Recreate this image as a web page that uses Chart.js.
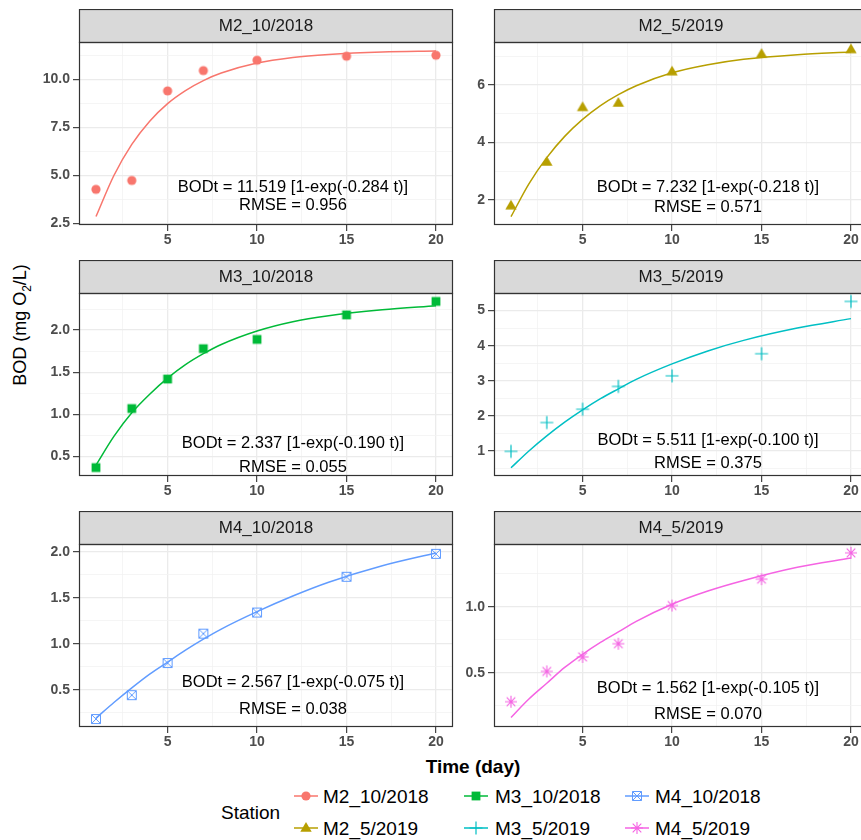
<!DOCTYPE html>
<html>
<head>
<meta charset="utf-8">
<title>BOD curves by station</title>
<script src="https://cdn.jsdelivr.net/npm/chart.js@4.4.1/dist/chart.umd.min.js"></script>
<style>
  html, body { margin: 0; padding: 0; background: #fff; }
  #wrap { position: relative; width: 861px; height: 840px; overflow: hidden;
          font-family: "Liberation Sans", Arial, sans-serif; }
  #wrap canvas { position: absolute; }
  .txt { position: absolute; white-space: nowrap; color: #000; line-height: 1; }
</style>
</head>
<body>
<div id="wrap">
  <div class="txt" style="left:473px; top:766px; font-size:19px; font-weight:bold; transform:translate(-50%,-50%);">Time (day)</div>
  <div class="txt" style="left:22px; top:325px; font-size:18px; transform:translate(-50%,-50%) rotate(-90deg);">BOD (mg O<sub style="font-size:12px">2</sub>/L)</div>
  <div class="txt" style="left:221px; top:812px; font-size:19px; transform:translateY(-50%);">Station</div>
</div>
<script>
const days = [1, 3, 5, 7, 10, 15, 20];
const fitDays = [1, 2, 3, 4, 5, 6, 7, 8, 10, 12, 14, 17, 20];

const stations = ['M2_10/2018', 'M2_5/2019', 'M3_10/2018', 'M3_5/2019', 'M4_10/2018', 'M4_5/2019'];
const colors = ['#F8766D', '#B79F00', '#00BA38', '#00BFC4', '#619CFF', '#F564E3'];
const shapes = ['circle', 'triangle', 'square', 'plus', 'boxcross', 'asterisk'];

// measured BOD (mg O2/L)
const bodM2Oct = [4.27, 4.73, 9.40, 10.46, 11.00, 11.21, 11.26];
const bodM2May = [1.80, 3.32, 5.22, 5.37, 6.46, 7.07, 7.23];
const bodM3Oct = [0.37, 1.07, 1.42, 1.78, 1.89, 2.18, 2.34];
const bodM3May = [0.99, 1.81, 2.19, 2.84, 3.14, 3.77, 5.26];
const bodM4Oct = [0.18, 0.44, 0.79, 1.11, 1.34, 1.73, 1.98];
const bodM4May = [0.28, 0.51, 0.62, 0.72, 1.01, 1.21, 1.41];

// fitted curves, read at fitDays
const fitM2Oct = [2.85, 4.99, 6.61, 7.82, 8.74, 9.42, 9.94, 10.33, 10.85, 11.14, 11.30, 11.43, 11.48];
const fitM2May = [1.42, 2.56, 3.47, 4.21, 4.80, 5.28, 5.66, 5.97, 6.42, 6.70, 6.89, 7.05, 7.14];
const fitM3Oct = [0.40, 0.74, 1.02, 1.24, 1.43, 1.59, 1.72, 1.83, 1.99, 2.10, 2.17, 2.24, 2.29];
const fitM3May = [0.52, 1.00, 1.43, 1.82, 2.17, 2.49, 2.77, 3.04, 3.48, 3.85, 4.15, 4.50, 4.77];
const fitM4Oct = [0.19, 0.36, 0.52, 0.67, 0.80, 0.93, 1.05, 1.16, 1.35, 1.52, 1.67, 1.85, 1.99];
const fitM4May = [0.16, 0.30, 0.42, 0.54, 0.64, 0.73, 0.81, 0.89, 1.02, 1.12, 1.20, 1.30, 1.37];

const equations = [
  'BODt = 11.519 [1-exp(-0.284 t)]',
  'BODt = 7.232 [1-exp(-0.218 t)]',
  'BODt = 2.337 [1-exp(-0.190 t)]',
  'BODt = 5.511 [1-exp(-0.100 t)]',
  'BODt = 2.567 [1-exp(-0.075 t)]',
  'BODt = 1.562 [1-exp(-0.105 t)]'
];
const rmse = ['RMSE = 0.956', 'RMSE = 0.571', 'RMSE = 0.055', 'RMSE = 0.375', 'RMSE = 0.038', 'RMSE = 0.070'];

const xTicks = [5, 10, 15, 20];
const xTickLabels = ['5', '10', '15', '20'];
const yTicks = [[2.5, 5, 7.5, 10], [2, 4, 6], [0.5, 1, 1.5, 2], [1, 2, 3, 4, 5], [0.5, 1, 1.5, 2], [0.5, 1]];
const yTickLabels = [
  ['2.5', '5.0', '7.5', '10.0'], ['2', '4', '6'], ['0.5', '1.0', '1.5', '2.0'],
  ['1', '2', '3', '4', '5'], ['0.5', '1.0', '1.5', '2.0'], ['0.5', '1.0']
];
const yRanges = [[2.41, 11.95], [1.13, 7.49], [0.27, 2.44], [0.287, 5.5], [0.093, 2.087], [0.088, 1.477]];
const xRange = [0.05, 20.95];

const observed = [bodM2Oct, bodM2May, bodM3Oct, bodM3May, bodM4Oct, bodM4May];
const fitted = [fitM2Oct, fitM2May, fitM3Oct, fitM3May, fitM4Oct, fitM4May];

// layout (px)
const PLOT_W = 374, PLOT_H = 183, STRIP_H = 33, AXIS_W = 79, AXIS_H = 30, PAD_R = 8;
const plotLefts = [79, 494];
const plotTops = [42, 293, 544];
const textSpots = [[145, 163], [145, 165], [150, 174], [147, 170], [138, 165], [144, 170]];
const FONT = '"Liberation Sans", Arial, sans-serif';

Chart.defaults.font.family = FONT;

function makeMarker(shape, color) {
  const c = document.createElement('canvas');
  c.width = 16; c.height = 16;
  const g = c.getContext('2d');
  const m = 8;
  g.fillStyle = color;
  g.strokeStyle = color;
  g.beginPath();
  if (shape === 'circle') {
    g.arc(m, m, 4.6, 0, Math.PI * 2);
    g.fill();
  } else if (shape === 'triangle') {
    g.moveTo(m, m - 6);
    g.lineTo(m + 5.7, m + 3.7);
    g.lineTo(m - 5.7, m + 3.7);
    g.closePath();
    g.fill();
  } else if (shape === 'square') {
    g.fillRect(m - 4.4, m - 4.4, 8.8, 8.8);
  } else if (shape === 'plus') {
    g.lineWidth = 1.2;
    g.moveTo(m - 6.5, m); g.lineTo(m + 6.5, m);
    g.moveTo(m, m - 6.5); g.lineTo(m, m + 6.5);
    g.stroke();
  } else if (shape === 'boxcross') {
    g.lineWidth = 1;
    g.rect(m - 4.5, m - 4.5, 9, 9);
    g.moveTo(m - 4.5, m - 4.5); g.lineTo(m + 4.5, m + 4.5);
    g.moveTo(m + 4.5, m - 4.5); g.lineTo(m - 4.5, m + 4.5);
    g.stroke();
  } else if (shape === 'asterisk') {
    g.lineWidth = 1.1;
    const r = 6, d = 4.3;
    g.moveTo(m - r, m); g.lineTo(m + r, m);
    g.moveTo(m, m - r); g.lineTo(m, m + r);
    g.moveTo(m - d, m - d); g.lineTo(m + d, m + d);
    g.moveTo(m + d, m - d); g.lineTo(m - d, m + d);
    g.stroke();
  }
  return c;
}

const markers = shapes.map((s, i) => makeMarker(s, colors[i]));

function withMinors(major, lo, hi) {
  const step = major[1] - major[0];
  const all = major.slice();
  for (let v = major[0] - step / 2; v <= hi + 1e-9; v += step) {
    if (v >= lo) all.push(v);
  }
  return all.sort((a, b) => a - b);
}

function isMajor(v, major) {
  return major.some(t => Math.abs(t - v) < 1e-9);
}

function labelFor(v, major, labels) {
  const k = major.findIndex(t => Math.abs(t - v) < 1e-9);
  return k < 0 ? '' : labels[k];
}

const panelDecor = {
  id: 'panelDecor',
  beforeDraw(chart) {
    const { ctx, chartArea: a } = chart;
    ctx.save();
    ctx.fillStyle = '#D9D9D9';
    ctx.fillRect(a.left, a.top - STRIP_H, a.right - a.left, STRIP_H);
    ctx.restore();
  },
  afterDraw(chart, args, o) {
    const { ctx, chartArea: a } = chart;
    ctx.save();
    ctx.strokeStyle = '#333333';
    ctx.lineWidth = 1.2;
    ctx.strokeRect(a.left + 0.5, a.top - STRIP_H + 0.5, a.right - a.left - 1, STRIP_H);
    ctx.strokeRect(a.left + 0.5, a.top + 0.5, a.right - a.left - 1, a.bottom - a.top - 1);
    ctx.textAlign = 'center';
    ctx.textBaseline = 'middle';
    ctx.fillStyle = '#1A1A1A';
    ctx.font = '17px ' + FONT;
    ctx.fillText(o.title, (a.left + a.right) / 2, a.top - STRIP_H / 2 + 1);
    ctx.fillStyle = '#000000';
    ctx.font = '16.5px ' + FONT;
    ctx.fillText(o.eq, a.left + 214, a.top + o.eqY);
    ctx.fillText(o.rmse, a.left + 214, a.top + o.rmseY);
    ctx.restore();
  }
};

const wrap = document.getElementById('wrap');
const xAll = withMinors(xTicks, xRange[0], xRange[1]);

stations.forEach((name, i) => {
  const col = i % 2, row = Math.floor(i / 2);
  const cv = document.createElement('canvas');
  const w = AXIS_W + PLOT_W + PAD_R, h = STRIP_H + PLOT_H + AXIS_H;
  cv.width = w; cv.height = h;
  cv.style.width = w + 'px'; cv.style.height = h + 'px';
  cv.style.left = (plotLefts[col] - AXIS_W) + 'px';
  cv.style.top = (plotTops[row] - STRIP_H) + 'px';
  wrap.appendChild(cv);

  const yMajor = yTicks[i];
  const yAll = withMinors(yMajor, yRanges[i][0], yRanges[i][1]);

  const gridFor = major => ({
    color: c => isMajor(c.tick.value, major) ? '#EBEBEB' : '#F2F2F2',
    lineWidth: c => isMajor(c.tick.value, major) ? 1.3 : 0.8,
    tickColor: c => isMajor(c.tick.value, major) ? '#333333' : 'rgba(0,0,0,0)',
    tickLength: 6,
    tickWidth: 1.1
  });

  new Chart(cv, {
    type: 'scatter',
    data: {
      datasets: [
        {
          data: days.map((d, k) => ({ x: d, y: observed[i][k] })),
          pointStyle: markers[i],
          pointRadius: 5,
          clip: false,
          order: 1
        },
        {
          data: fitDays.map((d, k) => ({ x: d, y: fitted[i][k] })),
          showLine: true,
          borderColor: colors[i],
          borderWidth: 1.5,
          pointRadius: 0,
          cubicInterpolationMode: 'monotone',
          clip: false,
          order: 2
        }
      ]
    },
    options: {
      responsive: false,
      animation: false,
      events: [],
      layout: { padding: { top: STRIP_H, right: PAD_R, left: 0, bottom: 0 } },
      plugins: {
        legend: { display: false },
        tooltip: { enabled: false },
        panelDecor: {
          title: name, eq: equations[i], rmse: rmse[i],
          eqY: textSpots[i][0], rmseY: textSpots[i][1]
        }
      },
      scales: {
        x: {
          type: 'linear', min: xRange[0], max: xRange[1],
          afterBuildTicks: s => { s.ticks = xAll.map(v => ({ value: v })); },
          afterFit: s => { s.height = AXIS_H; s.paddingLeft = 0; s.paddingRight = 0; },
          ticks: {
            callback: v => labelFor(v, xTicks, xTickLabels),
            font: { size: 14, weight: 'bold' }, color: '#4D4D4D',
            padding: 1, maxRotation: 0, autoSkip: false
          },
          grid: gridFor(xTicks),
          border: { display: false }
        },
        y: {
          type: 'linear', min: yRanges[i][0], max: yRanges[i][1],
          afterBuildTicks: s => { s.ticks = yAll.map(v => ({ value: v })); },
          afterFit: s => { s.width = AXIS_W; s.paddingTop = 0; s.paddingBottom = 0; },
          ticks: {
            callback: v => labelFor(v, yMajor, yTickLabels[i]),
            font: { size: 14, weight: 'bold' }, color: '#4D4D4D',
            padding: 3, autoSkip: false
          },
          grid: gridFor(yMajor),
          border: { display: false }
        }
      }
    },
    plugins: [panelDecor]
  });
});

// legend: 2 rows x 3 columns, filled by column
const keyX = [306, 476, 637];
const labelX = [323, 495, 655];
const rowY = [796, 828];
stations.forEach((name, i) => {
  const col = Math.floor(i / 2), row = i % 2;
  const key = document.createElement('canvas');
  key.width = 30; key.height = 22;
  key.style.left = (keyX[col] - 15) + 'px';
  key.style.top = (rowY[row] - 11) + 'px';
  const g = key.getContext('2d');
  g.strokeStyle = colors[i];
  g.lineWidth = 1.5;
  g.beginPath();
  g.moveTo(3, 11); g.lineTo(27, 11);
  g.stroke();
  g.drawImage(markers[i], 15 - 8, 11 - 8);
  wrap.appendChild(key);

  const t = document.createElement('div');
  t.className = 'txt';
  t.textContent = name;
  t.style.left = labelX[col] + 'px';
  t.style.top = rowY[row] + 'px';
  t.style.fontSize = '19px';
  t.style.transform = 'translateY(-50%)';
  wrap.appendChild(t);
});
</script>
</body>
</html>
